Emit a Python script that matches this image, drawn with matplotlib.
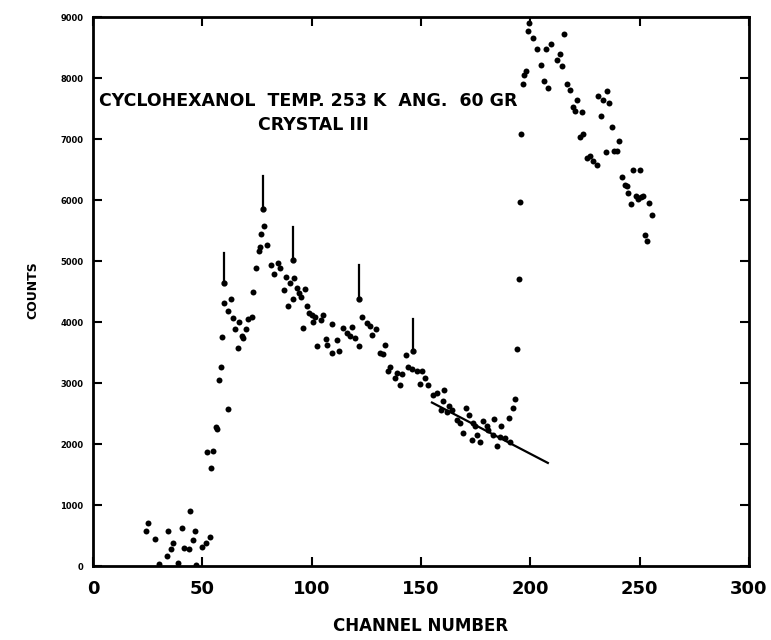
import matplotlib.pyplot as plt

# channel / counts read for each spectrum point
channel = [24.3, 25.3, 28.3, 30.3, 33.7, 34.4, 35.7, 36.7, 38.7, 40.6, 41.6, 43.7, 44.4,
           45.6, 46.5, 47.0, 49.7, 51.7, 52.0, 53.5, 54.1, 55.0, 56.2, 56.8,
           57.6, 58.4, 59.1, 59.9, 61.6, 61.9, 62.9, 63.9, 64.9, 66.2, 66.9, 68.3, 68.8,
           70.0, 71.0, 72.5, 73.3, 74.5, 76.0, 76.6, 77.0, 78.2, 79.7,
           81.2, 82.8, 84.7, 85.5, 87.3, 88.3, 89.3, 90.1, 91.3, 92.0, 93.1, 94.4, 95.2,
           96.1, 97.1, 97.9, 98.9, 100.0, 100.7, 101.5, 102.3, 104.1, 105.0, 106.5, 106.9,
           109.2, 109.3, 111.4, 112.6, 114.5, 116.0, 117.5, 118.3, 119.8, 121.8, 122.9,
           125.1, 126.7, 127.4, 129.4, 131.2, 132.7, 133.5, 135.0, 135.8, 138.1, 138.8,
           140.4, 141.1, 143.1, 144.2, 145.7, 148.0, 149.5, 150.3, 151.8, 153.3, 155.6,
           157.2, 159.0, 159.9, 160.6, 161.7, 162.9, 164.0, 166.3, 167.8, 169.0, 170.6,
           172.1, 173.2, 173.9, 174.7, 175.5, 177.0, 178.2, 180.0, 180.8, 182.8, 183.4,
           184.9, 186.1, 186.4, 188.4, 190.4, 190.7, 192.2, 193.1, 193.7, 194.9, 195.2,
           195.7, 196.5, 197.0, 198.0, 199.1, 199.5, 201.3, 203.2, 204.7, 206.2, 207.1,
           208.2, 209.4, 212.0, 213.5, 214.7, 215.4, 216.9, 218.1, 219.4, 220.4, 221.2,
           222.8, 223.4, 224.2, 225.7, 227.5, 228.8, 230.6, 231.1, 232.1, 233.1, 234.6,
           234.9, 236.1, 237.5, 238.2, 239.7, 240.7, 241.9, 243.3, 244.0, 244.8, 245.9,
           246.8, 248.3, 249.3, 250.1, 250.6, 251.3, 252.4, 253.4, 254.4, 255.5]
counts = [570, 700, 440, 30, 170, 580, 280, 380, 55, 630, 300, 280, 910,
          420, 580, 20, 310, 370, 1870, 480, 1610, 1890, 2280, 2240,
          3050, 3270, 3750, 4310, 2580, 4180, 4370, 4070, 3880, 3570, 4000, 3770, 3730,
          3880, 4050, 4090, 4490, 4880, 5160, 5230, 5450, 5570, 5270,
          4940, 4780, 4970, 4890, 4520, 4740, 4260, 4640, 4380, 4720, 4560, 4480, 4410,
          3900, 4540, 4270, 4140, 4120, 4000, 4090, 3600, 4030, 4120, 3720, 3630,
          3490, 3970, 3700, 3520, 3900, 3820, 3770, 3920, 3740, 3600, 4080,
          3990, 3940, 3790, 3890, 3500, 3470, 3630, 3190, 3270, 3080, 3170,
          2960, 3140, 3460, 3270, 3230, 3190, 2990, 3200, 3080, 2970, 2810,
          2840, 2560, 2710, 2880, 2520, 2620, 2550, 2400, 2340, 2180, 2590,
          2480, 2060, 2350, 2300, 2140, 2040, 2370, 2300, 2230, 2140, 2410,
          1960, 2120, 2300, 2100, 2430, 2040, 2590, 2730, 3550, 4710, 5970,
          7090, 7910, 8050, 8120, 8770, 8910, 8650, 8470, 8210, 7950, 8480,
          7840, 8560, 8300, 8390, 8190, 8720, 7900, 7800, 7530, 7460, 7640,
          7040, 7450, 7090, 6690, 6720, 6640, 6570, 7700, 7380, 7640, 6780,
          7790, 7590, 7190, 6810, 6800, 6960, 6370, 6240, 6230, 6110, 5940,
          6500, 6060, 6010, 6500, 6050, 6060, 5420, 5330, 5950, 5750]

# straight background line under the tail
fit_x = [155, 208]
fit_y = [2680, 1690]

# peak markers: channel, top of stem, tip
peak_ch = [59.9, 77.6, 91.6, 121.6, 146.2]
peak_top = [5130, 6390, 5550, 4940, 4050]
peak_tip = [4640, 5850, 5020, 4380, 3520]

xticks = [0, 50, 100, 150, 200, 250, 300]
yticks = [0, 1000, 2000, 3000, 4000, 5000, 6000, 7000, 8000, 9000]

fig = plt.figure(figsize=(7.71, 6.40), dpi=100)
ax = fig.add_axes([0.1206, 0.1156, 0.8509, 0.8578])

ax.plot(channel, counts, 'o', color='black', markersize=4.3, markeredgewidth=0)
ax.plot(fit_x, fit_y, '-', color='black', linewidth=1.6)
for x, t, b in zip(peak_ch, peak_top, peak_tip):
    ax.plot([x, x], [t, b], '-', color='black', linewidth=1.6)
    ax.plot([x], [b], 'o', color='black', markersize=3.5)

ax.set_xlim(0, 300)
ax.set_ylim(0, 9000)
ax.set_xticks(xticks)
ax.set_yticks(yticks)
ax.set_xticklabels([str(v) for v in xticks], fontsize=13, fontweight='bold')
ax.set_yticklabels([str(v) for v in yticks], fontsize=6, fontweight='bold')
ax.tick_params(axis='x', direction='in', length=6.5, width=1.5, top=True, pad=10)
ax.tick_params(axis='y', direction='in', length=6.5, width=1.5, right=True, pad=7)
for s in ax.spines.values():
    s.set_linewidth(2)

ax.set_xlabel('CHANNEL NUMBER', fontsize=12, fontweight='bold', labelpad=14)
fig.text(33 / 771, 1 - 290 / 640, 'COUNTS', rotation=90, fontsize=9,
         fontweight='bold', ha='center', va='center')

ax.text(2.7, 7620, 'CYCLOHEXANOL  TEMP. 253 K  ANG.  60 GR', fontsize=12.5,
        fontweight='bold', ha='left', va='center')
ax.text(75.4, 7225, 'CRYSTAL III', fontsize=12.5, fontweight='bold',
        ha='left', va='center')

fig.savefig('out.png', dpi=100)
